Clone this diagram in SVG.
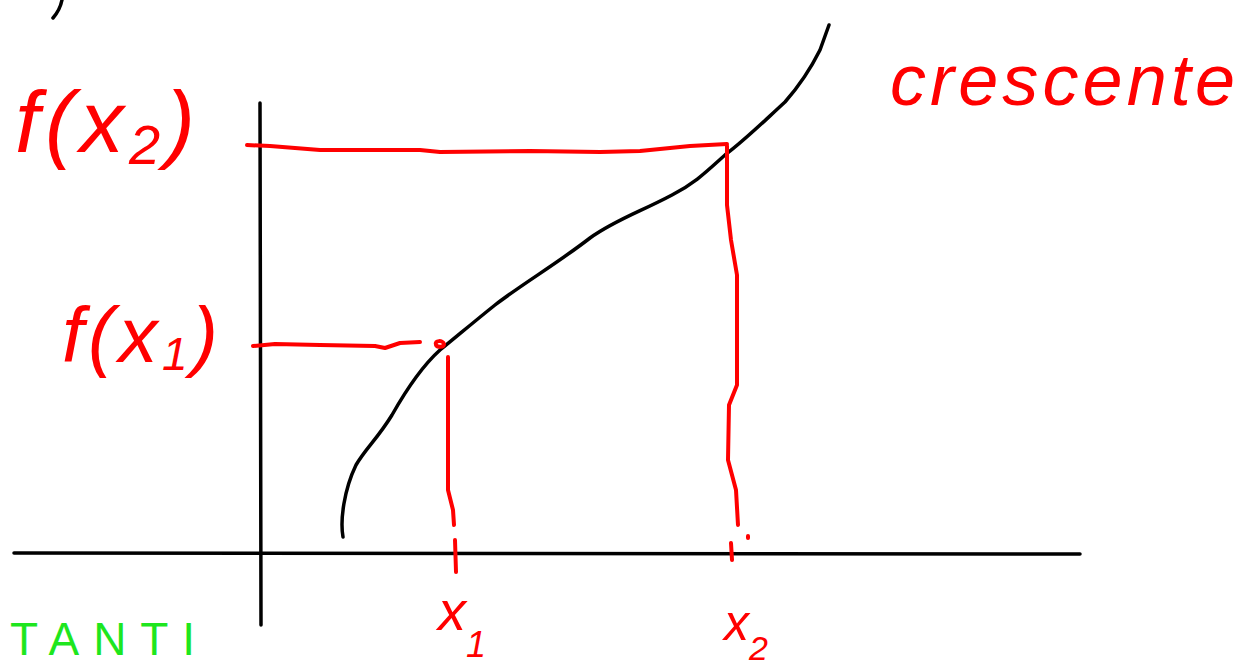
<svg xmlns="http://www.w3.org/2000/svg" width="1257" height="667" viewBox="0 0 1257 667">
<style>
.blk{fill:none;stroke:#000;stroke-width:3.5;stroke-linecap:round;stroke-linejoin:round}
.red{fill:none;stroke:#f00;stroke-width:4;stroke-linecap:round;stroke-linejoin:round}
.lbl{font-family:"Liberation Sans",Arial,sans-serif;fill:#f00;font-style:italic}
.grn{font-family:"Liberation Sans",Arial,sans-serif;fill:#1ee61e}
</style>
<rect width="1257" height="667" fill="#fff"/>
<g id="axes">
<path class="blk" d="M260,103 L261,625"/>
<path class="blk" d="M14,553 L1080,554"/>
<path class="blk" d="M53,18 Q60,10 62,0"/>
</g>
<g id="curve">
<path class="blk" d="M343,537 C340,520 344,490 356,465 C366,448 378,438 392,415 C405,392 420,368 440,350 C455,338 470,325 495,305 C525,282 555,265 590,238 C615,220 640,212 672,195 C695,183 705,173 725,155 C745,140 760,125 785,102 C800,85 810,70 820,50 L829,25"/>
</g>
<g id="connectors">
<path class="red" d="M247,145 L270,146 L320,150 L420,150 L440,152 L530,151 L600,152 L640,151 L690,146 L727,144"/>
<path class="red" d="M727,146 L727,205 L731,240 L737,275 L737,385 L729,405 L728,460 L736,490 L738,525"/>
<path class="red" d="M748,536 L748,538"/>
<path class="red" d="M731,543 L732,560"/>
<path class="red" d="M253,346 L275,344 L320,345 L375,346 L385,348 L400,343 L420,342"/>
<path class="red" d="M436,345 C434,340 443,340 444,344 C444,348 437,347 436,345"/>
<path class="red" d="M448,357 L448,490 L453,510 L454,525"/>
<path class="red" d="M455,540 L456,572"/>
</g>
<g id="label-fx2">
<text class="lbl" x="15" y="152" font-size="88" textLength="180" lengthAdjust="spacing">f(x<tspan font-size="56" dy="12">2</tspan><tspan dy="-12">)</tspan></text>
</g>
<g id="label-crescente">
<text class="lbl" x="890" y="105" font-size="72" textLength="345" lengthAdjust="spacing">crescente</text>
</g>
<g id="label-fx1">
<text class="lbl" x="62" y="362" font-size="78" textLength="156" lengthAdjust="spacing">f(x<tspan font-size="46" dy="8">1</tspan><tspan dy="-8">)</tspan></text>
</g>
<g id="label-x1">
<text class="lbl" x="438" y="630" font-size="56">x<tspan font-size="36" dy="27">1</tspan></text>
</g>
<g id="label-x2">
<text class="lbl" x="724" y="640" font-size="50">x<tspan font-size="34" dy="20">2</tspan></text>
</g>
<g id="label-tanti">
<text class="grn" x="10" y="655" font-size="46" textLength="185" lengthAdjust="spacing">TANTI</text>
</g>
</svg>
